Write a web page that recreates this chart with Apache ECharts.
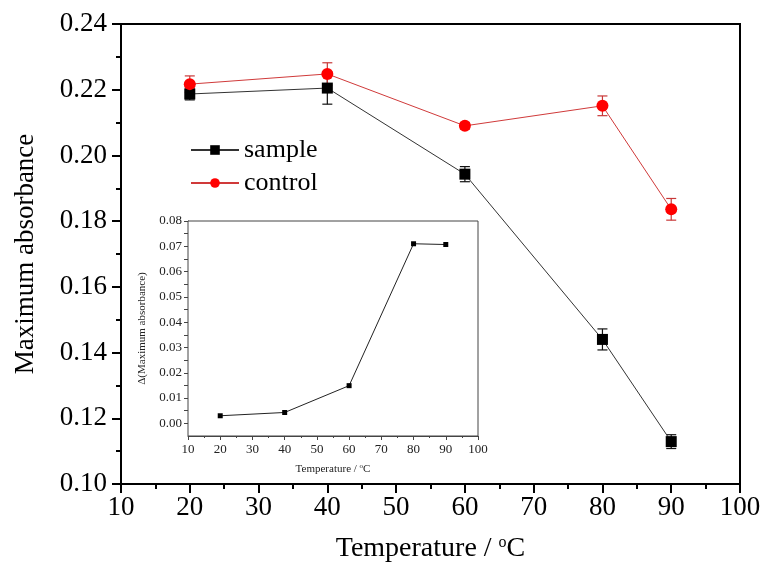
<!DOCTYPE html>
<html>
<head>
<meta charset="utf-8">
<script src="https://cdn.jsdelivr.net/npm/echarts@6/dist/echarts.min.js"></script>
<style>html,body{margin:0;padding:0;background:#fff;}#c{width:764px;height:573px;}</style>
</head>
<body>
<div id="c"></div>
<script>
const temps = [20, 40, 60, 80, 90];
const sampleVals = [0.2187, 0.2205, 0.1943, 0.1440, 0.1129];
const sampleErr = [0.0018, 0.0049, 0.0023, 0.0032, 0.0021];
const controlVals = [0.2217, 0.2248, 0.2090, 0.2151, 0.1836];
const controlErr = [0.0025, 0.0034, 0.0010, 0.0030, 0.0033];
const insetTemps = [20, 40, 60, 80, 90];
const deltaVals = [0.0030, 0.0043, 0.0149, 0.0710, 0.0707];
const seriesNames = ['sample', 'control'];

const FONT = 'Liberation Serif';
const chart = echarts.init(document.getElementById('c'), null, {renderer: 'canvas'});

function errSeries(vals, errs, color) {
  return {
    type: 'custom', xAxisIndex: 0, yAxisIndex: 0, z: 3, silent: true,
    renderItem: function (params, api) {
      const x = api.value(0), y = api.value(1), e = api.value(2);
      const hi = api.coord([x, y + e]), lo = api.coord([x, y - e]);
      const w = 5;
      const st = {stroke: color, lineWidth: 1.2};
      return {type: 'group', children: [
        {type: 'line', shape: {x1: hi[0], y1: hi[1], x2: lo[0], y2: lo[1]}, style: st},
        {type: 'line', shape: {x1: hi[0] - w, y1: hi[1], x2: hi[0] + w, y2: hi[1]}, style: st},
        {type: 'line', shape: {x1: lo[0] - w, y1: lo[1], x2: lo[0] + w, y2: lo[1]}, style: st}
      ]};
    },
    encode: {x: 0, y: 1},
    data: temps.map((t, i) => [t, vals[i], errs[i]])
  };
}

const mainAxisCommon = {
  axisLine: {show: true, onZero: false, lineStyle: {color: '#000', width: 2}},
  axisTick: {show: true, length: 9, lineStyle: {color: '#000', width: 2}},
  minorTick: {show: true, splitNumber: 2, length: 5, lineStyle: {color: '#000', width: 2}},
  splitLine: {show: false},
  minorSplitLine: {show: false},
  axisLabel: {fontSize: 27, fontFamily: FONT, color: '#000'}
};

const insetAxisCommon = {
  axisLine: {show: true, onZero: false, lineStyle: {color: '#444', width: 1}},
  axisTick: {show: true, length: 4, lineStyle: {color: '#444', width: 1}},
  splitLine: {show: false},
  minorSplitLine: {show: false},
  axisLabel: {fontSize: 13, fontFamily: FONT, color: '#222'}
};

const option = {
  backgroundColor: '#fff',
  animation: false,
  grid: [
    {left: 121, top: 24, width: 619, height: 460, show: true, borderColor: '#000', borderWidth: 2, backgroundColor: 'transparent'},
    {left: 188, top: 221, width: 290, height: 215, show: true, borderColor: '#444', borderWidth: 1, backgroundColor: '#fff', z: 5}
  ],
  legend: {
    data: seriesNames,
    orient: 'vertical',
    left: 185, top: 132,
    itemWidth: 48, itemHeight: 12,
    itemGap: 7,
    textStyle: {fontSize: 26, fontFamily: FONT, color: '#000'}
  },
  xAxis: [
    Object.assign({}, mainAxisCommon, {
      type: 'value', gridIndex: 0, min: 10, max: 100, interval: 10,
      axisLabel: Object.assign({}, mainAxisCommon.axisLabel, {margin: 10}),
      name: 'Temperature / {sup|o}C', nameLocation: 'middle', nameGap: 51,
      nameTextStyle: {fontSize: 28, fontFamily: FONT, color: '#000',
        rich: {sup: {fontSize: 16, fontFamily: FONT, color: '#000', verticalAlign: 'top', padding: [0, 0, 12, 0]}}}
    }),
    Object.assign({}, insetAxisCommon, {
      type: 'value', gridIndex: 1, min: 10, max: 100, interval: 10,
      minorTick: {show: true, splitNumber: 2, length: 2, lineStyle: {color: '#444', width: 1}},
      axisLabel: Object.assign({}, insetAxisCommon.axisLabel, {margin: 7}),
      name: 'Temperature / {sup|o}C', nameLocation: 'middle', nameGap: 27,
      nameTextStyle: {fontSize: 11, fontFamily: FONT, color: '#222',
        rich: {sup: {fontSize: 7, fontFamily: FONT, color: '#222', verticalAlign: 'top', padding: [0, 0, 5, 0]}}}
    })
  ],
  yAxis: [
    Object.assign({}, mainAxisCommon, {
      type: 'value', gridIndex: 0, min: 0.10, max: 0.24, interval: 0.02,
      axisLabel: Object.assign({}, mainAxisCommon.axisLabel, {margin: 14, formatter: v => v.toFixed(2)}),
      name: 'Maximum absorbance', nameLocation: 'middle', nameGap: 82, nameRotate: 90,
      nameTextStyle: {fontSize: 27, fontFamily: FONT, color: '#000'}
    }),
    Object.assign({}, insetAxisCommon, {
      type: 'value', gridIndex: 1, min: -0.005, max: 0.08, interval: 0.005,
      axisLabel: Object.assign({}, insetAxisCommon.axisLabel, {margin: 6, showMinLabel: false,
        formatter: function (v) {
          const k = v * 100;
          if (v < -1e-9 || Math.abs(k - Math.round(k)) > 1e-6) return '';
          return v.toFixed(2);
        }}),
      name: '\u0394(Maximum absorbance)', nameLocation: 'middle', nameGap: 40, nameRotate: 90,
      nameTextStyle: {fontSize: 11, fontFamily: FONT, color: '#222'}
    })
  ],
  series: [
    errSeries(sampleVals, sampleErr, '#111'),
    {
      name: 'sample', type: 'line', xAxisIndex: 0, yAxisIndex: 0, z: 4,
      symbol: 'rect', symbolSize: 11,
      itemStyle: {color: '#000'},
      lineStyle: {color: '#333', width: 1},
      data: temps.map((t, i) => [t, sampleVals[i]])
    },
    errSeries(controlVals, controlErr, '#c83838'),
    {
      name: 'control', type: 'line', xAxisIndex: 0, yAxisIndex: 0, z: 6,
      symbol: 'circle', symbolSize: 12,
      itemStyle: {color: '#ff0000'},
      lineStyle: {color: '#d03a3a', width: 1},
      data: temps.map((t, i) => [t, controlVals[i]])
    },
    {
      name: 'delta', type: 'line', xAxisIndex: 1, yAxisIndex: 1, z: 10,
      symbol: 'rect', symbolSize: 5,
      itemStyle: {color: '#000'},
      lineStyle: {color: '#222', width: 1},
      data: insetTemps.map((t, i) => [t, deltaVals[i]])
    }
  ]
};
chart.setOption(option);
</script>
</body>
</html>
